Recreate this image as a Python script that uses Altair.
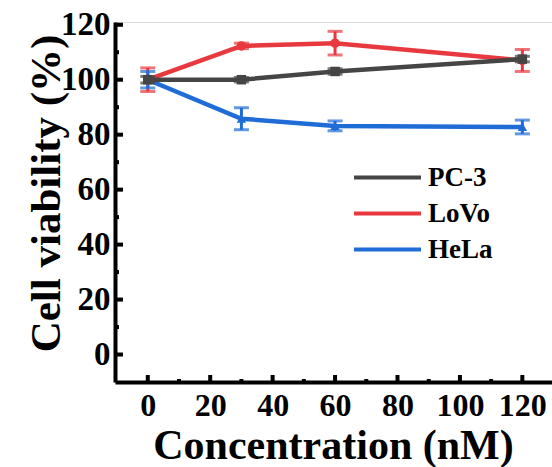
import altair as alt
import pandas as pd

conc = [0, 30, 60, 120]
series_names = ["PC-3", "LoVo", "HeLa"]
pc3 = [100, 100, 103, 107.5]
pc3_err = [1.2, 0.8, 1.0, 1.0]
lovo = [100, 112.3, 113.3, 107]
lovo_err = [4.3, 1.0, 4.3, 4.0]
hela = [100, 85.8, 83.2, 82.8]
hela_err = [3.0, 4.0, 1.8, 2.5]
colors = ["#454545", "#e8393f", "#1f6cd6"]
shapes = ["square", "circle", "triangle-up"]
x_ticks = [0, 20, 40, 60, 80, 100, 120]
x_minor = [10, 30, 50, 70, 90, 110]
y_ticks = [0, 20, 40, 60, 80, 100, 120]
y_minor = [10, 30, 50, 70, 90, 110]

rows = []
draw_order = ["LoVo", "HeLa", "PC-3"]
data = {"PC-3": (pc3, pc3_err), "LoVo": (lovo, lovo_err), "HeLa": (hela, hela_err)}
for name in draw_order:
    vals, errs = data[name]
    for c, v, e in zip(conc, vals, errs):
        rows.append({"c": c, "v": v, "lo": v - e, "hi": v + e, "s": name})
df = pd.DataFrame(rows)

FONT = "Liberation Serif"
xs = alt.Scale(domain=[-10.5, 129.5], nice=False)
ys = alt.Scale(domain=[-10, 121], nice=False)
cs = alt.Scale(domain=series_names, range=colors)

X = alt.X("c:Q", scale=xs, title="Concentration (nM)",
          axis=alt.Axis(values=x_ticks, format="d", grid=False, ticks=False, domainWidth=4,
                        domainColor="black", labelFont=FONT, labelFontSize=32, labelFontWeight="bold",
                        labelColor="black", labelPadding=8, labelFlush=False,
                        titleFont=FONT, titleFontSize=42, titleFontWeight="bold", titleColor="black",
                        titleX=218, titleY=76, titleBaseline="alphabetic", titleAlign="center"))
Y = alt.Y("v:Q", scale=ys, title="Cell viability (%)",
          axis=alt.Axis(values=y_ticks, format="d", grid=False, ticks=False, domainWidth=4,
                        domainColor="black", labelFont=FONT, labelFontSize=33, labelFontWeight="bold",
                        labelColor="black", labelPadding=5, labelFlush=False,
                        titleFont=FONT, titleFontSize=43, titleFontWeight="bold", titleColor="black",
                        titleX=-56, titleY=171, titleBaseline="alphabetic", titleAlign="center",
                        titleAngle=270))

base = alt.Chart(df)
color = alt.Color("s:N", scale=cs, sort=series_names, title=None,
                  legend=alt.Legend(orient="none", legendX=237, legendY=142, symbolType="stroke",
                                    symbolStrokeWidth=4, symbolSize=4489, clipHeight=27,
                                    symbolOpacity=1,
                                    labelFont=FONT, labelFontSize=27, labelFontWeight="bold",
                                    labelColor="black", rowPadding=8, labelOffset=5, padding=0))

lines = base.mark_line(strokeWidth=4.5).encode(x=X, y=Y, color=color, order="c:Q")
err = base.mark_rule(strokeWidth=3).encode(x="c:Q", y="lo:Q", y2="hi:Q", color=color)
cap_lo = base.mark_tick(thickness=3, size=15, orient="horizontal").encode(x="c:Q", y="lo:Q", color=color)
cap_hi = base.mark_tick(thickness=3, size=15, orient="horizontal").encode(x="c:Q", y="hi:Q", color=color)

pt_layers = []
for name in draw_order:
    i = series_names.index(name)
    pt_layers.append(base.transform_filter(alt.datum.s == name).mark_point(
        filled=True, size=90, opacity=1, shape=shapes[i]).encode(x="c:Q", y="v:Q", color=color))

xt = pd.DataFrame({"t": x_ticks})
xm = pd.DataFrame({"t": x_minor})
yt = pd.DataFrame({"t": y_ticks})
ym = pd.DataFrame({"t": y_minor})
xtick = alt.Chart(xt).mark_rule(strokeWidth=4, color="black").encode(
    x=alt.X("t:Q", scale=xs), y=alt.value(360), y2=alt.value(353))
xmtick = alt.Chart(xm).mark_rule(strokeWidth=4, color="black").encode(
    x=alt.X("t:Q", scale=xs), y=alt.value(360), y2=alt.value(357))
ytick = alt.Chart(yt).mark_rule(strokeWidth=4, color="black").encode(
    y=alt.Y("t:Q", scale=ys), x=alt.value(0), x2=alt.value(8))
ymtick = alt.Chart(ym).mark_rule(strokeWidth=4, color="black").encode(
    y=alt.Y("t:Q", scale=ys), x=alt.value(0), x2=alt.value(4))

chart = alt.layer(lines, err, cap_lo, cap_hi, *pt_layers, xtick, xmtick, ytick, ymtick).properties(
    width=437, height=360, autosize=alt.AutoSizeParams(type="none"),
    padding={"left": 115, "top": 22, "right": 0, "bottom": 85}
).configure_view(stroke=None).configure(background="white")

chart.save("out.html", embed_options={"renderer": "svg", "actions": False})
